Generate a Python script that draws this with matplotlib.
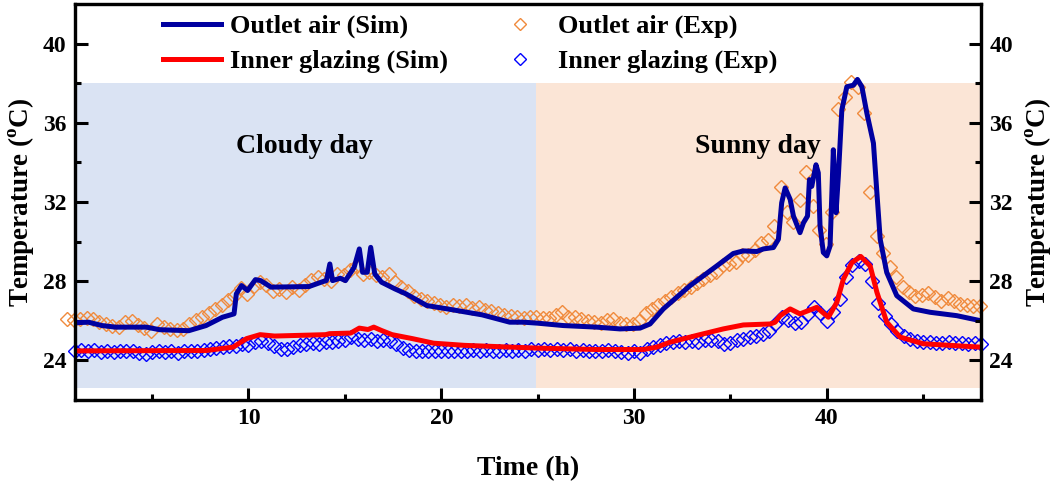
import numpy as np
import matplotlib
matplotlib.use('Agg')
import matplotlib.pyplot as plt

plt.rcParams['font.family'] = 'Liberation Serif'
plt.rcParams['font.weight'] = 'bold'
plt.rcParams['mathtext.fontset'] = 'custom'
plt.rcParams['mathtext.rm'] = 'Liberation Serif:bold'
plt.rcParams['mathtext.bf'] = 'Liberation Serif:bold'

# simulated outlet air (h, degC)
sim_air_t = [1.0, 1.7, 2.4, 3.1, 4.7, 5.4, 6.9, 7.8, 8.65, 9.25, 9.37, 9.64, 9.95, 10.36,
             10.63, 11.17, 13.14, 13.86, 14.04, 14.22, 14.36, 14.76, 15.03, 15.48, 15.75,
             15.92, 16.16, 16.34, 16.55, 16.9, 17.6, 18.17, 19.25, 20.32, 22.12, 23.55,
             24.27, 25.0, 26.33, 28.06, 29.27, 30.31, 30.83, 31.52, 32.9, 34.29, 35.15,
             35.67, 36.37, 36.71, 37.23, 37.49, 37.66, 37.84, 38.1, 38.27, 38.61, 38.79,
             39.0, 39.1, 39.22, 39.44, 39.56, 39.65, 39.82, 40.0, 40.17, 40.34, 40.48,
             40.6, 40.78, 41.04, 41.38, 41.59, 41.82, 42.08, 42.42, 42.6, 42.77, 43.11,
             43.63, 44.49, 45.36, 46.74, 48.0]
sim_air = [25.9, 25.93, 25.76, 25.68, 25.68, 25.55, 25.5, 25.76, 26.18, 26.35, 27.36, 27.78,
           27.53, 28.08, 28.03, 27.7, 27.73, 27.98, 28.03, 28.87, 28.03, 28.15, 28.03, 28.7,
           29.63, 28.45, 28.45, 29.71, 28.37, 27.95, 27.61, 27.36, 26.77, 26.6, 26.3, 25.93,
           25.93, 25.88, 25.76, 25.68, 25.59, 25.63, 25.84, 26.6, 27.77, 28.77, 29.4, 29.53,
           29.5, 29.63, 29.7, 30.12, 31.96, 32.71, 32.13, 31.29, 30.45, 30.95, 31.29, 33.13,
           32.79, 33.88, 33.47, 30.78, 29.45, 29.28, 29.78, 34.64, 31.46, 33.3, 36.65, 37.82,
           37.9, 38.19, 37.82, 36.48, 34.97, 32.46, 30.12, 28.44, 27.27, 26.6, 26.43, 26.26,
           26.0]

# simulated inner glazing
sim_glz_t = [1.0, 7.8, 9.2, 9.9, 10.6, 11.35, 14.0, 14.2, 15.3, 15.75, 16.2, 16.5, 16.9,
             17.45, 18.5, 19.6, 21.2, 25.0, 28.06, 30.48, 31.18, 31.87, 33.25, 34.63, 35.67,
             37.06, 37.32, 37.58, 38.1, 38.61, 39.48, 40.08, 40.52, 40.86, 41.3, 41.76,
             42.25, 42.6, 43.11, 43.8, 45.01, 47.09, 48.0]
sim_glz = [24.48, 24.5, 24.67, 25.1, 25.3, 25.23, 25.3, 25.35, 25.38, 25.63, 25.56, 25.68,
           25.51, 25.3, 25.1, 24.87, 24.76, 24.62, 24.55, 24.55, 24.67, 24.92, 25.26, 25.59,
           25.79, 25.84, 25.93, 26.26, 26.6, 26.35, 26.68, 26.18, 26.93, 28.1, 28.94, 29.25,
           28.77, 27.44, 25.93, 25.18, 24.84, 24.72, 24.67]

# measured outlet air, every 20 min from 0.6 h
exp_air_t = 0.6 + np.arange(143) / 3
exp_air = [26.1, 26.05, 26.1, 26.15, 26.1, 25.95, 25.85, 25.75, 25.7, 25.95, 26.0, 25.8,
           25.65, 25.5, 25.85, 25.7, 25.6, 25.55, 25.6, 25.85, 26.05, 26.2, 26.4, 26.6,
           26.8, 27.05, 27.25, 27.65, 27.35, 27.75, 27.95, 27.8, 27.5, 27.6, 27.45, 27.7,
           27.55, 27.8, 28.05, 28.2, 28.1, 28.0, 28.35, 28.3, 28.55, 28.75, 28.35, 28.45,
           28.3, 28.2, 28.35, 27.95, 27.7, 27.5, 27.25, 27.1, 27.0, 26.9, 26.8, 26.7,
           26.8, 26.75, 26.8, 26.65, 26.7, 26.55, 26.5, 26.4, 26.3, 26.25, 26.2, 26.15,
           26.2, 26.2, 26.15, 26.15, 26.3, 26.45, 26.2, 26.2, 26.1, 26.0, 25.95, 25.9,
           26.05, 26.1, 25.9, 25.85, 25.85, 26.0, 26.4, 26.6, 26.8, 27.0, 27.2, 27.4,
           27.55, 27.7, 27.9, 28.1, 28.3, 28.45, 28.8, 28.85, 28.95, 29.3, 29.3, 29.6,
           29.95, 30.1, 30.8, 32.75, 31.5, 31.0, 32.1, 33.5, 31.8, 30.6, 29.9, 31.5,
           36.7, 37.3, 38.05, 37.8, 36.5, 32.5, 30.3, 29.4, 28.7, 28.2, 27.7, 27.45,
           27.25, 27.3, 27.4, 27.2, 27.0, 27.15, 27.0, 26.85, 26.8, 26.75, 26.73]

# measured inner glazing, every 20 min from 1 h
exp_glz_t = 1.0 + np.arange(142) / 3
exp_glz = [24.45, 24.55, 24.45, 24.55, 24.4, 24.5, 24.4, 24.5, 24.45, 24.5, 24.35, 24.3,
           24.4, 24.5, 24.4, 24.45, 24.35, 24.45, 24.45, 24.5, 24.55, 24.6, 24.65, 24.7,
           24.75, 24.75, 24.85, 24.8, 24.95, 25.0, 24.9, 24.75, 24.6, 24.6, 24.7, 24.8,
           24.85, 24.9, 24.85, 24.95, 24.95, 25.0, 25.05, 25.2, 25.1, 25.05, 25.1, 25.0,
           25.05, 25.0, 24.85, 24.65, 24.55, 24.5, 24.45, 24.5, 24.45, 24.5, 24.45, 24.5,
           24.45, 24.5, 24.55, 24.5, 24.55, 24.45, 24.5, 24.55, 24.5, 24.55, 24.5, 24.6,
           24.55, 24.6, 24.55, 24.6, 24.55, 24.6, 24.5, 24.55, 24.45, 24.5, 24.45, 24.55,
           24.45, 24.4, 24.35, 24.45, 24.35, 24.6, 24.7, 24.8, 24.9, 24.95, 25.0, 24.95,
           25.0, 24.95, 25.05, 25.05, 25.0, 24.85, 24.9, 25.05, 25.1, 25.2, 25.25, 25.35,
           25.5, 25.85, 26.2, 26.05, 25.9, 25.95, 26.35, 26.7, 26.4, 26.0, 26.45, 27.1,
           28.2, 28.8, 29.0, 28.85, 28.0, 26.9, 26.25, 25.85, 25.5, 25.25, 25.1, 25.0,
           24.95, 24.95, 24.9, 24.9, 24.95, 24.9, 24.9, 24.85, 24.9, 24.85]

# day periods
cloudy = (1, 24.9)
sunny = (24.9, 48)
band = (22.6, 38)

fig = plt.figure(figsize=(10.59, 4.84), dpi=100)
ax = fig.add_axes([75 / 1059, 1 - 400 / 484, 906 / 1059, 396 / 484])

ax.axvspan(cloudy[0], cloudy[1], ymin=(band[0] - 22) / 20, ymax=(band[1] - 22) / 20,
           color='#dae3f3', lw=0, zorder=0)
ax.axvspan(sunny[0], sunny[1], ymin=(band[0] - 22) / 20, ymax=(band[1] - 22) / 20,
           color='#fbe5d6', lw=0, zorder=0)

h3, = ax.plot(exp_air_t, exp_air, 'D', ms=7.5, mfc='none', mec='#f08a3c', mew=1.0,
              ls='none', label='Outlet air (Exp)', zorder=2, clip_on=False)
h4, = ax.plot(exp_glz_t, exp_glz, 'D', ms=7.5, mfc='none', mec='#0000ff', mew=1.0,
              ls='none', label='Inner glazing (Exp)', zorder=2, clip_on=False)
h1, = ax.plot(sim_air_t, sim_air, color='#0000a0', lw=3.6, label='Outlet air (Sim)', zorder=3)
h2, = ax.plot(sim_glz_t, sim_glz, color='#ff0000', lw=3.6, label='Inner glazing (Sim)', zorder=3)

ax.set_xlim(1, 48)
ax.set_ylim(22, 42)
ax.set_xticks([10, 20, 30, 40])
ax.set_xticks([5, 15, 25, 35, 45], minor=True)
ax.set_yticks([24, 28, 32, 36, 40])
ax.set_yticks([26, 30, 34, 38], minor=True)
ax.tick_params(which='major', direction='in', length=9, width=2.2, labelsize=17, pad=6)
ax.tick_params(which='minor', direction='in', length=4.5, width=2.2)
for s in ax.spines.values():
    s.set_linewidth(2.3)

ax2 = ax.twinx()
ax2.set_ylim(22, 42)
ax2.set_yticks([24, 28, 32, 36, 40])
ax2.set_yticks([26, 30, 34, 38], minor=True)
ax2.tick_params(which='major', direction='in', length=9, width=2.2, labelsize=17, pad=6)
ax2.tick_params(which='minor', direction='in', length=4.5, width=2.2)
for s in ax2.spines.values():
    s.set_linewidth(2.3)

ax.set_xlabel('Time (h)', fontsize=20, fontweight='bold', labelpad=19)
ax.set_ylabel(r'Temperature ($^{\mathbf{o}}$C)', fontsize=19.5, fontweight='bold', labelpad=5)
ax2.set_ylabel(r'Temperature ($^{\mathbf{o}}$C)', fontsize=19.5, fontweight='bold',
               rotation=90, labelpad=7)

ax.text(12.9, 34.8, 'Cloudy day', fontsize=20, fontweight='bold', ha='center', va='center')
ax.text(36.4, 34.8, 'Sunny day', fontsize=20, fontweight='bold', ha='center', va='center')

fig.legend(handles=[h1, h2, h3, h4], ncol=2, frameon=False, loc='upper left',
           bbox_to_anchor=(163 / 1059, 0.970), prop={'size': 19, 'weight': 'bold'},
           handlelength=2.2, handletextpad=0.35, columnspacing=1.62, labelspacing=0.42,
           borderpad=0, borderaxespad=0, markerscale=0.8)

fig.savefig('out.png', dpi=100)
